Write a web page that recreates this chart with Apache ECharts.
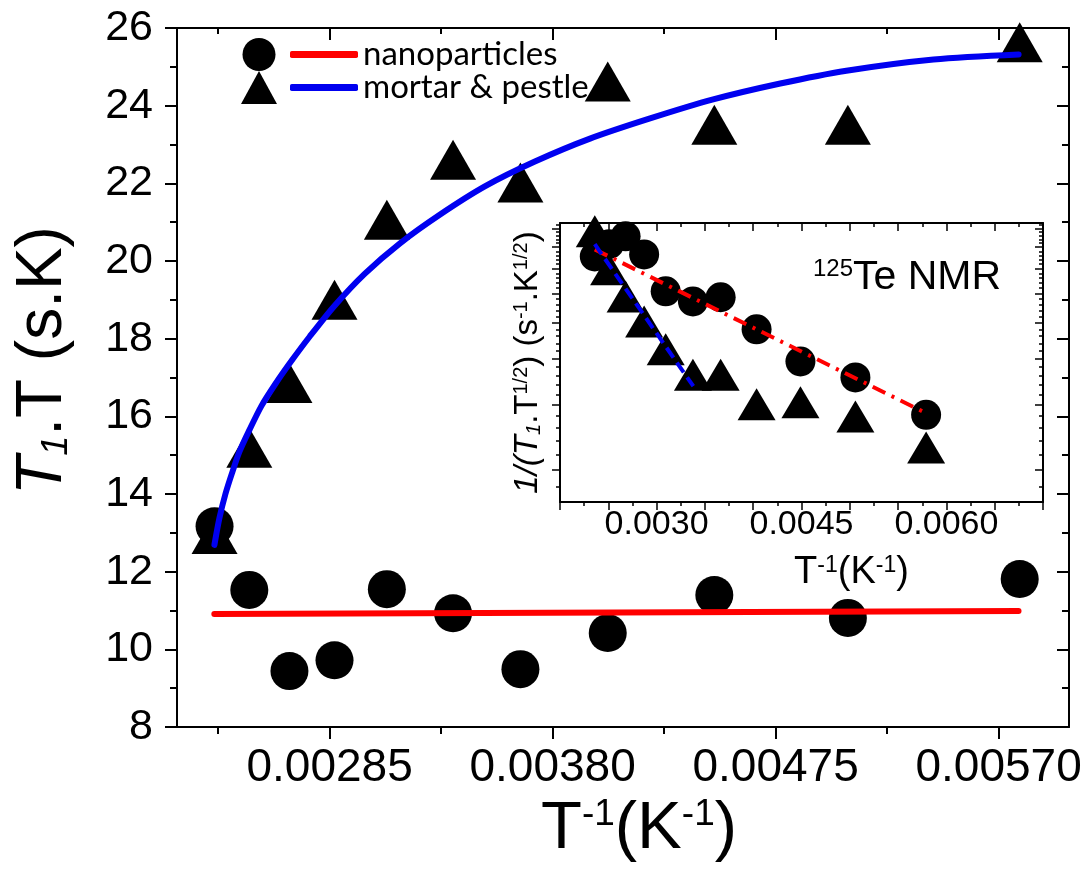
<!DOCTYPE html>
<html><head><meta charset="utf-8">
<script src="https://cdn.jsdelivr.net/npm/echarts@6/dist/echarts.min.js"></script>
<style>html,body{margin:0;padding:0;background:#fff}#c{width:1092px;height:871px}</style>
</head><body><div id="c"></div>
<script>
// ---- data ----
const invT = [0.002360, 0.002508, 0.002679, 0.002871, 0.003094, 0.003376, 0.003663, 0.004035, 0.004489, 0.005058, 0.005790];
const nanoT1T = [13.17, 11.53, 9.44, 9.72, 11.55, 10.93, 9.49, 10.42, 11.40, 10.81, 11.81];
const mortarT1T = [12.97, 15.19, 16.86, 19.00, 21.06, 22.61, 22.02, 24.62, 23.51, 23.51, 25.63];
const nanoFitX = [0.002359, 0.005785];
const nanoFitY = [10.91, 10.99];
const mortarFitX = [0.0023594, 0.0023807, 0.0024063, 0.0024362, 0.0024660, 0.0025087, 0.0025599, 0.0026196, 0.0026879, 0.0027647, 0.0028713, 0.0029993, 0.0031487, 0.0033193, 0.0035113, 0.0037246, 0.0039593, 0.0042153, 0.0044841, 0.0047699, 0.0050515, 0.0054227, 0.0057853];
const mortarFitY = [12.69, 13.38, 14.00, 14.57, 15.09, 15.65, 16.27, 16.84, 17.43, 18.05, 18.85, 19.67, 20.45, 21.19, 21.92, 22.56, 23.15, 23.67, 24.16, 24.57, 24.90, 25.19, 25.32];
const insetNano = [7.55, 8.15, 8.56, 7.65, 6.08, 5.71, 5.86, 4.80, 3.93, 3.56, 2.82];
const insetMortar = [8.83, 6.97, 5.89, 5.04, 4.24, 3.62, 3.62, 3.01, 3.05, 2.79, 2.30];
const insetNanoFitX = [0.00236, 0.00579];
const insetNanoFitY = [7.89, 2.85];
const insetMortarFitX = [0.00236, 0.00338];
const insetMortarFitY = [8.15, 3.37];
const mainXMajor = [0.00285, 0.00380, 0.00475, 0.00570];
const mainXMinor = [0.002375, 0.003325, 0.004275, 0.005225];
const insetYMajor = [2, 3, 4, 5, 6, 7, 8, 9];
const insetYMinor = [1.8, 2.2, 2.4, 2.6, 2.8, 3.2, 3.4, 3.6, 3.8, 4.2, 4.4, 4.6, 4.8, 5.2, 5.4, 5.6, 5.8, 6.2, 6.4, 6.6, 6.8, 7.2, 7.4, 7.6, 7.8, 8.2, 8.4, 8.6, 8.8, 9.2];

const zip = (xs, ys) => xs.map((x, i) => [x, ys[i]]);
const BLK = '#000';
const line2 = { lineStyle: { color: BLK, width: 2 } };
const FF = 'Liberation Sans, Arial, sans-serif';

const chart = echarts.init(document.getElementById('c'), null, { renderer: 'canvas' });

const mainXBase = { gridIndex: 0, type: 'value', min: 0.0022, max: 0.0060, splitLine: { show: false } };
const insetXBase = { gridIndex: 1, type: 'value', min: 0.0020, max: 0.0070, interval: 0.0005, splitLine: { show: false } };
const insetYBase = { gridIndex: 1, type: 'log', logBase: 10, min: 1.64, max: 9.3, splitLine: { show: false }, axisLabel: { show: false } };
const solid = { color: BLK, opacity: 1 };

chart.setOption({
  animation: false,
  textStyle: { fontFamily: FF, color: BLK },
  grid: [
    { left: 177, right: 23, top: 28, bottom: 144 },
    { left: 560, right: 49, top: 223, bottom: 369 }
  ],
  title: {
    text: '{s|125}{t|Te NMR}', left: 808, top: 252,
    textStyle: { fontWeight: 'normal', rich: {
      s: { fontSize: 24, fontFamily: FF, fontWeight: 'normal', color: BLK, verticalAlign: 'top' },
      t: { fontSize: 41, fontFamily: FF, fontWeight: 'normal', color: BLK } } }
  },
  legend: [
    { left: 241, top: 38, orient: 'vertical', padding: 0, itemGap: 0, itemWidth: 36, itemHeight: 33,
      data: [{ name: 'nano pts', icon: 'circle' }, { name: 'mortar pts', icon: 'triangle' }],
      itemStyle: { opacity: 1 },
      formatter: () => '', selectedMode: false },
    { left: 290, top: 38, orient: 'vertical', padding: 0, itemGap: 0, itemWidth: 68, itemHeight: 7, icon: 'roundRect',
      data: ['nanoparticles', 'mortar & pestle'], selectedMode: false,
      textStyle: { fontFamily: 'Lato', fontSize: 33, color: BLK, lineHeight: 33 } }
  ],
  xAxis: [
    Object.assign({}, mainXBase, {
      position: 'bottom', axisLine: line2,
      axisTick: { customValues: mainXMajor, length: 12, lineStyle: { color: BLK, width: 2 } },
      axisLabel: { customValues: mainXMajor, fontSize: 46, color: BLK, margin: 18, formatter: v => v.toFixed(5) },
      name: '{t|T}{s|-1}{t|(K}{s|-1}{t|)}', nameLocation: 'middle', nameGap: 63,
      nameTextStyle: { padding: [0, 0, 0, 32], rich: { t: { fontSize: 67, fontFamily: FF, color: BLK }, s: { fontSize: 37, fontFamily: FF, color: BLK, verticalAlign: 'top' } } }
    }),
    Object.assign({}, mainXBase, {
      position: 'bottom', axisLine: { show: false },
      axisTick: { customValues: mainXMinor, length: 7, lineStyle: { color: BLK, width: 2 } },
      axisLabel: { show: false }
    }),
    Object.assign({}, mainXBase, {
      position: 'top', axisLine: line2,
      axisTick: { inside: true, customValues: mainXMajor, length: 12, lineStyle: { color: BLK, width: 2 } },
      axisLabel: { show: false }
    }),
    Object.assign({}, mainXBase, {
      position: 'top', axisLine: { show: false },
      axisTick: { inside: true, customValues: mainXMinor, length: 6, lineStyle: { color: BLK, width: 2 } },
      axisLabel: { show: false }
    }),
    Object.assign({}, insetXBase, {
      position: 'bottom', axisLine: line2,
      axisTick: { length: 8, lineStyle: { color: BLK, width: 1.5 } },
      minorTick: { show: true, splitNumber: 2, length: 4, lineStyle: { color: BLK, width: 1.5 } },
      axisLabel: { fontSize: 34, color: BLK, margin: 6, formatter: v => (Math.round(v * 1e4) % 15 === 0 ? v.toFixed(4) : '') },
      name: '{t|T}{s|-1}{t|(K}{s|-1}{t|)}', nameLocation: 'middle', nameGap: 52,
      nameTextStyle: { padding: [0, 0, 0, 100], rich: { t: { fontSize: 38, fontFamily: FF, color: BLK }, s: { fontSize: 23, fontFamily: FF, color: BLK, verticalAlign: 'top' } } }
    }),
    Object.assign({}, insetXBase, {
      position: 'top', axisLine: line2,
      axisTick: { inside: true, length: 8, lineStyle: { color: BLK, width: 1.5 } },
      minorTick: { show: true, splitNumber: 2, length: 4, lineStyle: { color: BLK, width: 1.5 } },
      axisLabel: { show: false }
    })
  ],
  yAxis: [
    { gridIndex: 0, type: 'value', position: 'left', min: 8, max: 26, interval: 2, axisLine: line2,
      splitLine: { show: false },
      axisTick: { length: 12, lineStyle: { color: BLK, width: 2 } },
      minorTick: { show: true, splitNumber: 2, length: 7, lineStyle: { color: BLK, width: 2 } },
      axisLabel: { fontSize: 43, color: BLK, margin: 24 },
      name: '{it|T}{sub|1}{t|.T (s.K)}', nameLocation: 'middle', nameRotate: 90, nameGap: 102,
      nameTextStyle: { padding: [0, 0, 0, 34], rich: {
        it: { fontSize: 64, fontFamily: FF, fontStyle: 'italic', color: BLK },
        sub: { fontSize: 36, fontFamily: FF, fontStyle: 'italic', color: BLK, verticalAlign: 'bottom' },
        t: { fontSize: 64, fontFamily: FF, color: BLK } } }
    },
    { gridIndex: 0, type: 'value', position: 'right', min: 8, max: 26, interval: 2, axisLine: line2,
      splitLine: { show: false },
      axisTick: { inside: true, length: 12, lineStyle: { color: BLK, width: 2 } },
      minorTick: { show: true, splitNumber: 2, length: 7, lineStyle: { color: BLK, width: 2 } },
      axisLabel: { show: false }
    },
    Object.assign({}, insetYBase, {
      position: 'left', axisLine: line2,
      axisTick: { customValues: insetYMajor, length: 8, lineStyle: { color: BLK, width: 1.5 } },
      name: '{it|1/(T}{sub|1}{n|.T}{sup|1/2}{n|) (s}{sup|-1}{n|.K}{sup|1/2}{n|)}', nameLocation: 'middle', nameRotate: 90, nameGap: 16,
      nameTextStyle: { rich: {
        it: { fontSize: 33, fontFamily: FF, fontStyle: 'italic', color: BLK },
        sub: { fontSize: 20, fontFamily: FF, fontStyle: 'italic', color: BLK, verticalAlign: 'bottom' },
        sup: { fontSize: 20, fontFamily: FF, color: BLK, verticalAlign: 'top' },
        n: { fontSize: 33, fontFamily: FF, color: BLK } } }
    }),
    Object.assign({}, insetYBase, {
      position: 'left', axisLine: { show: false },
      axisTick: { customValues: insetYMinor, length: 4, lineStyle: { color: BLK, width: 1.5 } }
    }),
    Object.assign({}, insetYBase, {
      position: 'right', axisLine: line2,
      axisTick: { inside: true, customValues: insetYMajor, length: 8, lineStyle: { color: BLK, width: 1.5 } }
    }),
    Object.assign({}, insetYBase, {
      position: 'right', axisLine: { show: false },
      axisTick: { inside: true, customValues: insetYMinor, length: 4, lineStyle: { color: BLK, width: 1.5 } }
    })
  ],
  series: [
    { name: 'nano pts', type: 'scatter', xAxisIndex: 0, yAxisIndex: 0, data: zip(invT, nanoT1T),
      symbol: 'circle', symbolSize: 38, itemStyle: solid, z: 2, clip: false },
    { name: 'mortar pts', type: 'scatter', xAxisIndex: 0, yAxisIndex: 0, data: zip(invT, mortarT1T),
      symbol: 'triangle', symbolSize: [46, 40], itemStyle: solid, z: 2, clip: false },
    { name: 'nanoparticles', type: 'line', xAxisIndex: 0, yAxisIndex: 0, data: zip(nanoFitX, nanoFitY),
      showSymbol: false, symbol: 'none', itemStyle: { color: '#ff0000' },
      lineStyle: { color: '#ff0000', width: 6, cap: 'round' }, z: 3 },
    { name: 'mortar & pestle', type: 'line', xAxisIndex: 0, yAxisIndex: 0, data: zip(mortarFitX, mortarFitY),
      showSymbol: false, symbol: 'none', smooth: 0.3, itemStyle: { color: '#0000f0' },
      lineStyle: { color: '#0000f0', width: 6, cap: 'round', join: 'round' }, z: 3 },
    { name: 'inset nano', type: 'scatter', xAxisIndex: 4, yAxisIndex: 2, data: zip(invT, insetNano),
      symbol: 'circle', symbolSize: 30, itemStyle: solid, z: 2, clip: false },
    { name: 'inset mortar', type: 'scatter', xAxisIndex: 4, yAxisIndex: 2, data: zip(invT, insetMortar),
      symbol: 'triangle', symbolSize: [38, 32], itemStyle: solid, z: 2, clip: false },
    { name: 'inset nano fit', type: 'line', xAxisIndex: 4, yAxisIndex: 2, data: zip(insetNanoFitX, insetNanoFitY),
      showSymbol: false, symbol: 'none', lineStyle: { color: '#ff0000', width: 4, type: [14, 7, 3, 7] }, z: 3 },
    { name: 'inset mortar fit', type: 'line', xAxisIndex: 4, yAxisIndex: 2, data: zip(insetMortarFitX, insetMortarFitY),
      showSymbol: false, symbol: 'none', lineStyle: { color: '#0000f0', width: 4, type: [12, 6] }, z: 3 }
  ]
});
</script>
</body></html>
